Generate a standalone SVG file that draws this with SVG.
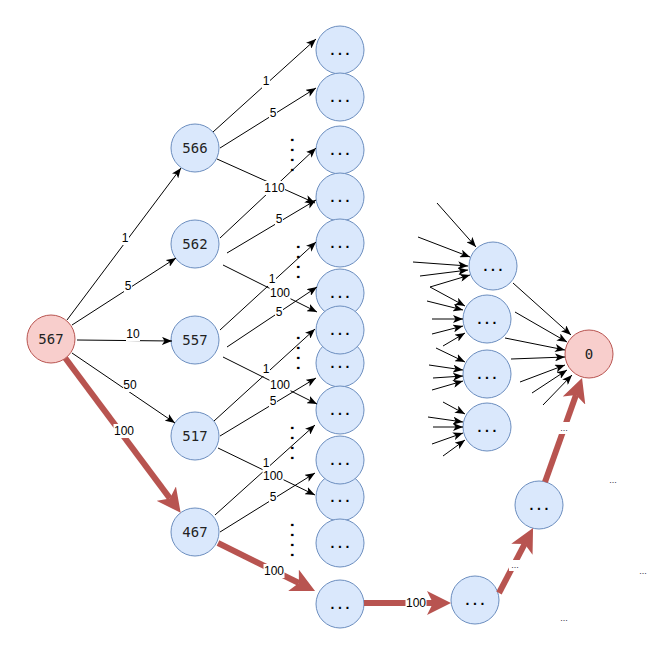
<svg xmlns="http://www.w3.org/2000/svg" width="658" height="652" viewBox="0 0 658 652">
<style>
.n{fill:#dae8fc;stroke:#6c8ebf;stroke-width:1}
.r{fill:#f8cecc;stroke:#b85450;stroke-width:1}
.e{stroke:#000;stroke-width:1;fill:none;marker-end:url(#a)}
.re{stroke:#b85450;stroke-width:6;fill:none;marker-end:url(#ra)}
.lb{fill:#fff}
.lt{font-family:"Liberation Sans",Arial,sans-serif;font-size:12px;text-anchor:middle;fill:#000}
.st{font-family:"Liberation Sans",Arial,sans-serif;font-size:9px;text-anchor:middle;fill:#334}
.nt{font-family:"DejaVu Sans Mono",monospace;font-size:14px;text-anchor:middle;fill:#222}
.dd{font-family:"Liberation Sans",Arial,sans-serif;font-size:14px;font-weight:bold;letter-spacing:3.6px;text-anchor:middle;fill:#000}
.vd{font-family:"Liberation Sans",Arial,sans-serif;font-size:16px;font-weight:bold;letter-spacing:5.55px;fill:#000}
</style>
<defs>
<marker id="a" markerUnits="userSpaceOnUse" markerWidth="10" markerHeight="8" refX="10" refY="4" orient="auto"><path d="M0,0 L10,4 L0,8 L2.5,4 z" fill="#000"/></marker>
<marker id="ra" markerUnits="userSpaceOnUse" markerWidth="24" markerHeight="24" refX="6" refY="12" orient="auto"><path d="M0,0 L24,12 L0,24 L6,12 z" fill="#b85450"/></marker>
</defs>

<g id="nodes">
<g id="n567"><circle class="r" cx="51" cy="339" r="24"/><text class="nt" x="51" y="344">567</text></g>
<g id="n566"><circle class="n" cx="195" cy="148" r="24"/><text class="nt" x="195" y="153">566</text></g>
<g id="n562"><circle class="n" cx="195" cy="244" r="24"/><text class="nt" x="195" y="249">562</text></g>
<g id="n557"><circle class="n" cx="195" cy="340" r="24"/><text class="nt" x="195" y="345">557</text></g>
<g id="n517"><circle class="n" cx="195" cy="436" r="24"/><text class="nt" x="195" y="441">517</text></g>
<g id="n467"><circle class="n" cx="195" cy="532" r="24"/><text class="nt" x="195" y="537">467</text></g>

<g id="c1"><circle class="n" cx="340" cy="50" r="24"/><text class="dd" x="340" dx="1.8" y="54.5">...</text></g>
<g id="c2"><circle class="n" cx="340" cy="97" r="24"/><text class="dd" x="340" dx="1.8" y="101.5">...</text></g>
<g id="c3"><circle class="n" cx="340" cy="150" r="24"/><text class="dd" x="340" dx="1.8" y="154.5">...</text></g>
<g id="c4"><circle class="n" cx="340" cy="197" r="24"/><text class="dd" x="340" dx="1.8" y="201.5">...</text></g>
<g id="c5"><circle class="n" cx="340" cy="243" r="24"/><text class="dd" x="340" dx="1.8" y="247.5">...</text></g>
<g id="c6"><circle class="n" cx="340" cy="293" r="24"/><text class="dd" x="340" dx="1.8" y="297.5">...</text></g>
<g id="c8"><circle class="n" cx="340" cy="363" r="24"/><text class="dd" x="340" dx="1.8" y="367.5">...</text></g>
<g id="c7"><circle class="n" cx="340" cy="330" r="24"/><text class="dd" x="340" dx="1.8" y="334.5">...</text></g>
<g id="c9"><circle class="n" cx="340" cy="410" r="24"/><text class="dd" x="340" dx="1.8" y="414.5">...</text></g>
<g id="c11"><circle class="n" cx="340" cy="497" r="24"/><text class="dd" x="340" dx="1.8" y="501.5">...</text></g>
<g id="c10"><circle class="n" cx="340" cy="460" r="24"/><text class="dd" x="340" dx="1.8" y="464.5">...</text></g>
<g id="c12"><circle class="n" cx="340" cy="543" r="24"/><text class="dd" x="340" dx="1.8" y="547.5">...</text></g>
<g id="c13"><circle class="n" cx="340" cy="604" r="24"/><text class="dd" x="340" dx="1.8" y="608.5">...</text></g>

<g id="rA"><circle class="n" cx="493" cy="266" r="24"/><text class="dd" x="493" dx="1.8" y="270.5">...</text></g>
<g id="rB"><circle class="n" cx="487" cy="319" r="24"/><text class="dd" x="487" dx="1.8" y="323.5">...</text></g>
<g id="rC"><circle class="n" cx="487" cy="374" r="24"/><text class="dd" x="487" dx="1.8" y="378.5">...</text></g>
<g id="rD"><circle class="n" cx="487" cy="427" r="24"/><text class="dd" x="487" dx="1.8" y="431.5">...</text></g>
<g id="n0"><circle class="r" cx="589" cy="354" r="24"/><text class="nt" x="589" y="359">0</text></g>
<g id="p1"><circle class="n" cx="475" cy="600" r="24"/><text class="dd" x="475" dx="1.8" y="604.5">...</text></g>
<g id="p2"><circle class="n" cx="539" cy="505" r="24"/><text class="dd" x="539" dx="1.8" y="509.5">...</text></g>
</g>

<g id="vdots">
<text class="vd" transform="translate(291,137.8) rotate(90)">....</text>
<text class="vd" transform="translate(297,244.8) rotate(90)">....</text>
<text class="vd" transform="translate(297,335.8) rotate(90)">....</text>
<text class="vd" transform="translate(291,425.8) rotate(90)">....</text>
<text class="vd" transform="translate(291,522.8) rotate(90)">....</text>
</g>

<g id="connectors">
<path class="e" d="M67,320 L181,168"/>
<path class="e" d="M72,325 L176,258"/>
<path class="e" d="M77,340 L172,341"/>
<path class="e" d="M72,353 L175,423"/>

<path class="e" d="M213,132 L316,39"/>
<path class="e" d="M220,148 L316,88"/>
<path class="e" d="M217,159 L315,203"/>
<path class="e" d="M220,238 L316,148"/>
<path class="e" d="M227,253 L316,200"/>
<path class="e" d="M223,265 L317,312"/>
<path class="e" d="M220,330 L316,242"/>
<path class="e" d="M227,347 L317,287"/>
<path class="e" d="M223,357 L317,404"/>
<path class="e" d="M214,421 L315,329"/>
<path class="e" d="M220,436 L316,378"/>
<path class="e" d="M218,448 L315,495"/>
<path class="e" d="M215,515 L315,425"/>
<path class="e" d="M220,532 L315,473"/>

<path class="e" d="M437,203 L476,247"/>
<path class="e" d="M418,237 L470,257"/>
<path class="e" d="M413,262 L468,266"/>
<path class="e" d="M420,276 L468,270"/>
<path class="e" d="M430,287 L470,275"/>

<path class="e" d="M430,287 L465,306"/>
<path class="e" d="M427,301 L463,310"/>
<path class="e" d="M432,319 L463,319"/>
<path class="e" d="M432,334 L463,326"/>
<path class="e" d="M443,346 L465,333"/>

<path class="e" d="M436,348 L465,362"/>
<path class="e" d="M429,365 L463,370"/>
<path class="e" d="M433,378 L463,376"/>
<path class="e" d="M432,390 L463,381"/>

<path class="e" d="M443,402 L465,414"/>
<path class="e" d="M428,417 L463,422"/>
<path class="e" d="M433,427 L463,427"/>
<path class="e" d="M432,444 L463,433"/>
<path class="e" d="M443,456 L465,440"/>

<path class="e" d="M513,283 L571,335"/>
<path class="e" d="M515,312 L567,342"/>
<path class="e" d="M505,338 L565,350"/>
<path class="e" d="M511,359 L565,357"/>
<path class="e" d="M520,382 L565,365"/>
<path class="e" d="M532,393 L567,370"/>
<path class="e" d="M543,405 L572,375"/>

<path class="re" d="M65.4,358.2 L169.9,498.4"/>
<path class="re" d="M218,543 L298.9,583"/>
<path class="re" d="M364,603 L433,603"/>
<path class="re" d="M499,593 L524.7,543.9"/>
<path class="re" d="M545,482 L576,395"/>

<g id="labels">
<rect class="lb" x="121" y="231" width="8" height="14"/><text class="lt" x="125" y="242.3">1</text>
<rect class="lb" x="124" y="279" width="8" height="14"/><text class="lt" x="128" y="290.3">5</text>
<rect class="lb" x="126" y="327" width="14" height="14"/><text class="lt" x="133" y="338.3">10</text>
<rect class="lb" x="123" y="378" width="14" height="14"/><text class="lt" x="130" y="389.3">50</text>
<rect class="lb" x="113.5" y="424" width="21" height="14"/><text class="lt" x="124" y="435.3">100</text>

<rect class="lb" x="262" y="74" width="8" height="14"/><text class="lt" x="266" y="85.3">1</text>
<rect class="lb" x="269" y="106" width="8" height="14"/><text class="lt" x="273" y="117.3">5</text>
<rect class="lb" x="264" y="181" width="7" height="14"/><text class="lt" x="267.5" y="192.3">1</text>
<rect class="lb" x="271" y="181" width="14" height="14"/><text class="lt" x="278" y="192.3">10</text>
<rect class="lb" x="275" y="212" width="8" height="14"/><text class="lt" x="279" y="223.3">5</text>
<rect class="lb" x="268" y="272" width="8" height="14"/><text class="lt" x="272" y="283.3">1</text>
<rect class="lb" x="269.5" y="286" width="21" height="14"/><text class="lt" x="280" y="297.3">100</text>
<rect class="lb" x="275" y="305" width="8" height="14"/><text class="lt" x="279" y="316.3">5</text>
<rect class="lb" x="262" y="362" width="8" height="14"/><text class="lt" x="266" y="373.3">1</text>
<rect class="lb" x="269.5" y="378" width="21" height="14"/><text class="lt" x="280" y="389.3">100</text>
<rect class="lb" x="269" y="394" width="8" height="14"/><text class="lt" x="273" y="405.3">5</text>
<rect class="lb" x="262.5" y="469" width="21" height="14"/><text class="lt" x="273" y="480.3">100</text>
<rect class="lb" x="262" y="456" width="8" height="13"/><text class="lt" x="266" y="467.3">1</text>
<rect class="lb" x="269" y="490" width="8" height="14"/><text class="lt" x="273" y="501.3">5</text>
<rect class="lb" x="263.5" y="564" width="21" height="14"/><text class="lt" x="274" y="575.3">100</text>
<rect class="lb" x="405.5" y="596" width="21" height="14"/><text class="lt" x="416" y="607.3">100</text>

<rect class="lb" x="509" y="560" width="12" height="11"/><text class="st" x="515" y="568">...</text>
<rect class="lb" x="558" y="422" width="12" height="12"/><text class="st" x="564" y="431">...</text>
<text class="st" x="613" y="483">...</text>
<text class="st" x="643" y="574">...</text>
<text class="st" x="564" y="621">...</text>
</g>
</g>
</svg>
